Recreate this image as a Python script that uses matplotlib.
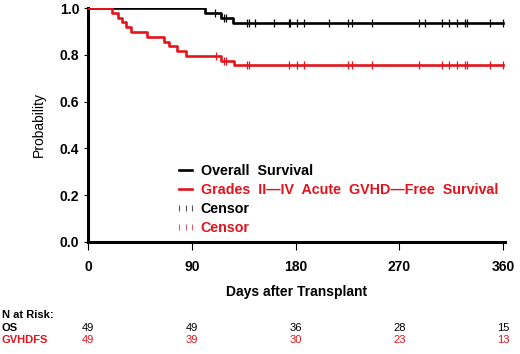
import numpy as np
import matplotlib
matplotlib.use("Agg")
import matplotlib.pyplot as plt
from matplotlib.lines import Line2D

plt.rcParams['font.family'] = ['Liberation Sans', 'DejaVu Sans']

RED = '#e3151c'
RED_TXT = '#e0141c'

# Kaplan-Meier step data
os_times = [0, 101, 115, 126, 360]
os_surv = [1.0, 0.979, 0.958, 0.935, 0.935]
os_censor = [110, 118, 119.5, 138, 139.5, 145, 161, 174, 175.5, 181.5, 187.5,
             209, 225, 228.5, 246.5, 287, 292, 307, 313, 319.5, 327, 328.5,
             348.5, 360]

gv_times = [0, 21, 26, 29, 33, 37, 51, 66, 70, 77, 85, 115.5, 126.5, 360]
gv_surv = [1.0, 0.980, 0.959, 0.939, 0.918, 0.898, 0.878, 0.857, 0.837,
           0.816, 0.796, 0.776, 0.755, 0.755]
gv_censor = [110.5, 118, 119.5, 138, 139.5, 174, 181.5, 187.5, 225, 228.5,
             246.5, 287, 307, 313, 319.5, 327, 328.5, 348.5, 360]

xticks = [0, 90, 180, 270, 360]
yticks = [0.0, 0.2, 0.4, 0.6, 0.8, 1.0]
risk_os = [49, 49, 36, 28, 15]
risk_gv = [49, 39, 30, 23, 13]


def level_at(times, surv, t):
    idx = np.searchsorted(times, t, side='right') - 1
    return np.asarray(surv)[idx]


fig = plt.figure(figsize=(5.2, 3.54), dpi=100)
W, H = 520, 354
ax = fig.add_axes([87.5 / W, 1 - 241.7 / H, (505 - 87.5) / W, (241.7 - 7.5) / H])

ax.step(os_times, os_surv, where='post', color='black', lw=1.9, zorder=3)
ax.step(gv_times, gv_surv, where='post', color=RED, lw=1.9, zorder=3)
ax.plot(os_censor, level_at(os_times, os_surv, os_censor), linestyle='none',
        marker='|', ms=6, mew=0.9, color='black', zorder=4)
ax.plot(gv_censor, level_at(gv_times, gv_surv, gv_censor), linestyle='none',
        marker='|', ms=6, mew=0.9, color=RED, zorder=4)

ax.set_xlim(-0.5, 361.5)
ax.set_ylim(0, 1.003)
ax.set_xticks(xticks)
ax.set_xticklabels([str(v) for v in xticks], fontsize=10, fontweight='bold')
ax.set_yticks(yticks)
ax.set_yticklabels([f'{v:.1f}' for v in yticks], fontsize=10, fontweight='bold')
ax.tick_params(axis='x', direction='out', length=6, width=0.8, pad=7)
ax.tick_params(axis='y', direction='out', length=3, width=0.8, pad=3)
for s in ['top', 'right']:
    ax.spines[s].set_visible(False)
for s in ['left', 'bottom']:
    ax.spines[s].set_linewidth(2.2)

ax.set_xlabel('Days after Transplant', fontsize=10, fontweight='bold', labelpad=8)
ax.set_ylabel('Probability', fontsize=10, labelpad=10)

handles = [
    Line2D([], [], color='black', lw=1.9),
    Line2D([], [], color=RED, lw=1.9),
    Line2D([], [], color='#555555', marker='|', linestyle='none', ms=5, mew=0.8),
    Line2D([], [], color='#e06070', marker='|', linestyle='none', ms=5, mew=0.8),
]
labels = ['Overall  Survival', 'Grades  II\u2014IV  Acute  GVHD\u2014Free  Survival',
          'Censor', 'Censor']
leg = ax.legend(handles, labels, loc='upper left', frameon=False,
                bbox_to_anchor=(175 / W, 1 - 164 / H), bbox_transform=fig.transFigure,
                borderpad=0, borderaxespad=0, handlelength=1.5, handletextpad=0.3,
                labelspacing=0.36, numpoints=3,
                prop={'size': 10.3, 'weight': 'bold'},
                labelcolor=['black', RED_TXT, 'black', RED_TXT])

# Number at risk table
fig.text(2 / W, 1 - 315 / H, 'N at Risk:', fontsize=8, fontweight='bold',
         va='center', ha='left')
fig.text(2 / W, 1 - 327.7 / H, 'OS', fontsize=8, fontweight='bold',
         va='center', ha='left')
fig.text(2 / W, 1 - 340 / H, 'GVHDFS', fontsize=8, fontweight='bold',
         va='center', ha='left', color=RED_TXT)
trans = matplotlib.transforms.blended_transform_factory(ax.transData, fig.transFigure)
for x, a, b in zip(xticks, risk_os, risk_gv):
    ax.text(x, 1 - 327.7 / H, str(a), transform=trans, fontsize=8,
            ha='center', va='center', color='black')
    ax.text(x, 1 - 340 / H, str(b), transform=trans, fontsize=8,
            ha='center', va='center', color=RED_TXT)

fig.savefig('out.png', dpi=100)
